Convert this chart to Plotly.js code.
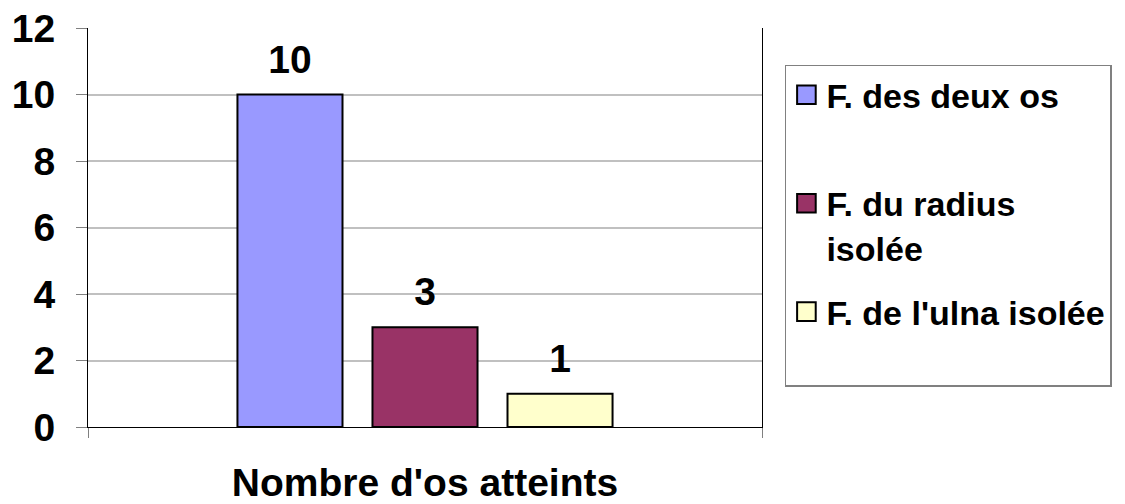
<!DOCTYPE html>
<html>
<head>
<meta charset="utf-8">
<script src="https://cdn.plot.ly/plotly-3.0.1.min.js"></script>
<style>html,body{margin:0;padding:0;background:#fff;}#chart{width:1125px;height:504px;}</style>
</head>
<body>
<div id="chart"></div>
<script>
const category = ["Nombre d'os atteints"];
const seriesNames = ["F. des deux os<br> ", "F. du radius<br>isolée", "F. de l'ulna isolée<br> "];
const seriesValues = [10, 3, 1];
const seriesColors = ["#9999FF", "#993366", "#FFFFCC"];
const yTickValues = [0, 2, 4, 6, 8, 10, 12];
const yTickLabels = ["0", "2", "4", "6", "8", "10", "12"];

const FONT = "Liberation Sans, Arial, sans-serif";
const traces = [];
seriesNames.forEach((n, i) => {
  traces.push({
    type: "bar", x: category, y: [seriesValues[i]], name: n,
    offsetgroup: "g" + i, legendgroup: "g" + i,
    marker: {color: seriesColors[i], line: {color: "#000000", width: 2}},
    hoverinfo: "skip"
  });
});
seriesNames.forEach((n, i) => {
  traces.push({
    type: "scatter", mode: "markers+text", x: category, y: [seriesValues[i]],
    text: [String(seriesValues[i])], textposition: "top center",
    textfont: {family: FONT, size: 39, color: "#000", weight: "bold"},
    marker: {size: 18, opacity: 0},
    offsetgroup: "g" + i, showlegend: false, hoverinfo: "skip", cliponaxis: false
  });
});

const layout = {
  width: 1125, height: 504,
  margin: {l: 88, r: 363, t: 28, b: 77, pad: 0},
  paper_bgcolor: "#fff", plot_bgcolor: "#fff",
  font: {family: FONT, color: "#000"},
  barmode: "group", bargap: 0.399, bargroupgap: 0.222,
  scattermode: "group", scattergap: 0.399,
  showlegend: true,
  legend: {
    x: 1.034, y: 0.908, xanchor: "left", yanchor: "top",
    bgcolor: "#fff", bordercolor: "#808080", borderwidth: 1.5,
    font: {family: FONT, size: 34, color: "#000", weight: "bold"},
    valign: "top", tracegroupgap: 17, itemwidth: 30, traceorder: "grouped"
  },
  xaxis: {
    type: "category", tickson: "boundaries", ticks: "outside", ticklen: 10,
    tickcolor: "#808080", tickwidth: 1, showticklabels: false,
    showline: true, linecolor: "#000", linewidth: 1, showgrid: false, zeroline: false,
    automargin: false,
    title: {text: "Nombre d'os atteints", standoff: 62,
            font: {family: FONT, size: 39, color: "#000", weight: "bold"}}
  },
  yaxis: {
    range: [0, 12], tickvals: yTickValues, ticktext: yTickLabels,
    ticks: "outside", ticklen: 11, tickcolor: "#808080", tickwidth: 1,
    ticklabelstandoff: 13,
    tickfont: {family: FONT, size: 39, color: "#000", weight: "bold"},
    showgrid: true, gridcolor: "#C0C0C0", gridwidth: 2,
    showline: true, linecolor: "#000", linewidth: 1, mirror: true,
    zeroline: false, automargin: false, fixedrange: true
  }
};

Plotly.newPlot("chart", traces, layout, {staticPlot: true, displayModeBar: false}).then(gd => {
  gd.querySelectorAll(".legend .legendpoints path").forEach(p => {
    const t = p.getAttribute("transform") || "";
    p.setAttribute("transform", t + " scale(1.55)");
    p.style.strokeWidth = "1.3px";
  });
});
</script>
</body>
</html>
